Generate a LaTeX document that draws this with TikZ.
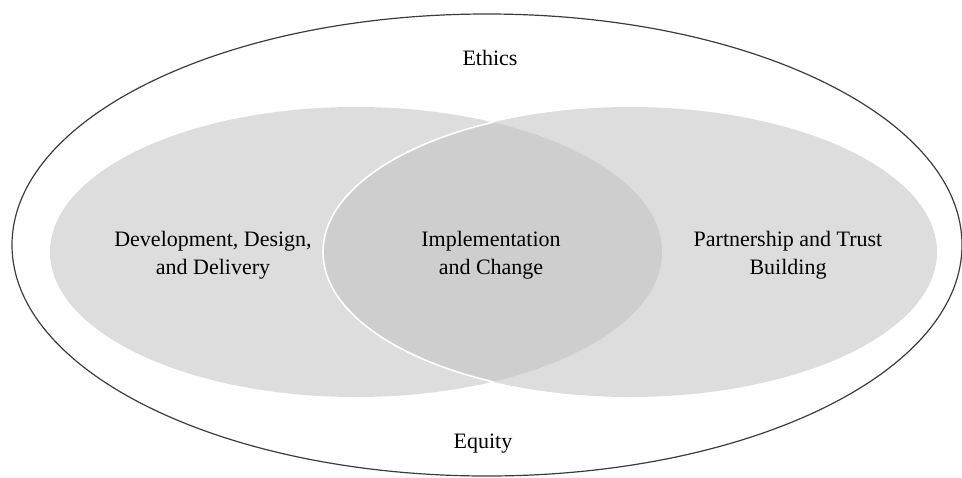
\documentclass[tikz,border=0pt]{standalone}
\usepackage{fontspec}
\setmainfont{Liberation Serif}
\definecolor{setgray}{RGB}{221,221,221}
\definecolor{lensgray}{RGB}{206,206,206}
\definecolor{rimgray}{RGB}{60,60,60}
\begin{document}
\begin{tikzpicture}[x=0.5pt,y=-0.5pt,
  lbl/.style={align=center,font=\fontsize{11}{14}\selectfont,text=black,inner sep=0pt}]
\useasboundingbox (0,0) rectangle (962,477);
% outer ellipse
\coordinate (outerc) at (487,245);
\draw[rimgray,line width=0.6pt] (outerc) ellipse [x radius=475, y radius=231];
% inner ellipses
\coordinate (leftc) at (356,252);
\coordinate (rightc) at (630,252);
\fill[setgray] (leftc) ellipse [x radius=306, y radius=145];
\fill[setgray] (rightc) ellipse [x radius=307, y radius=145];
\begin{scope}
  \clip (leftc) ellipse [x radius=306, y radius=145];
  \fill[lensgray] (rightc) ellipse [x radius=307, y radius=145];
\end{scope}
\begin{scope}
  \clip (leftc) ellipse [x radius=306, y radius=145];
  \draw[white,line width=0.8pt] (rightc) ellipse [x radius=307, y radius=145];
\end{scope}
% labels
\node[lbl,anchor=base] (ethics) at (490,65) {Ethics};
\node[lbl,anchor=base] (equity) at (483,448) {Equity};
\node[lbl] (ddd) at (213,255) {Development, Design,\\and Delivery};
\node[lbl] (impl) at (491,255) {Implementation\\and Change};
\node[lbl] (ptb) at (788,255) {Partnership and Trust\\Building};
\end{tikzpicture}
\end{document}
